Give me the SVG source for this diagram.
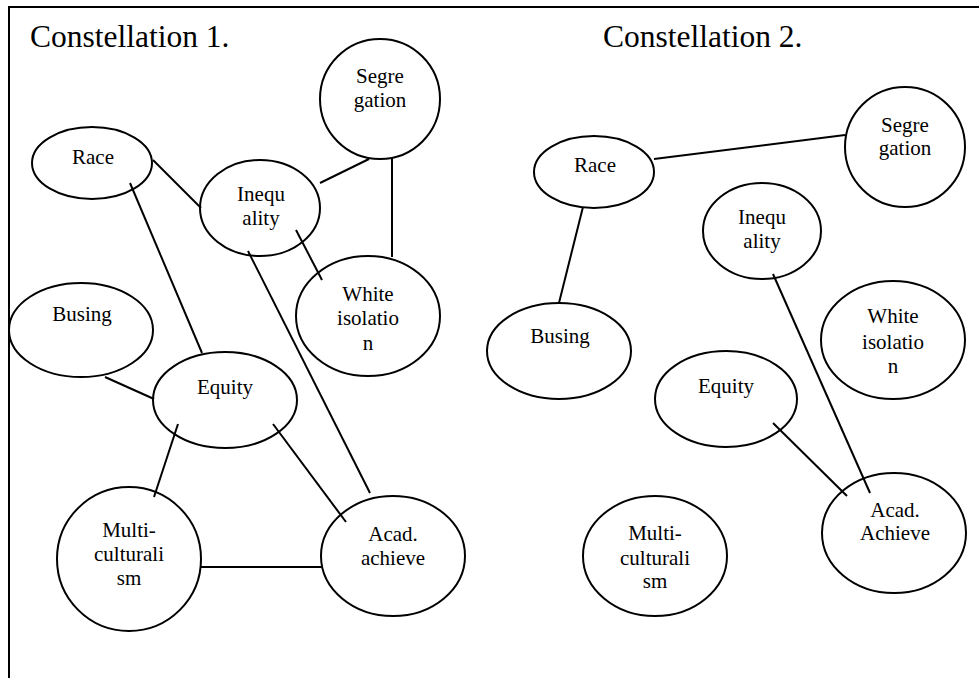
<svg xmlns="http://www.w3.org/2000/svg" width="979" height="678" viewBox="0 0 979 678">
<style>
  .n { fill: none; stroke: #000; stroke-width: 2; }
  .e { stroke: #000; stroke-width: 2; fill: none; }
  .l { font-family: "Liberation Serif", "Times New Roman", serif; font-size: 21px; text-anchor: middle; fill: #000; }
  .t { font-family: "Liberation Serif", "Times New Roman", serif; font-size: 31.5px; fill: #000; }
</style>
<rect width="979" height="678" fill="#fff"/>
<g id="frame">
  <line x1="8" y1="7" x2="979" y2="7" class="e"/>
  <line x1="9" y1="7" x2="9" y2="678" class="e"/>
</g>
<text class="t" x="30" y="47">Constellation 1.</text>
<text class="t" x="603" y="47">Constellation 2.</text>
<g id="connectors">
  <line x1="153" y1="160" x2="201" y2="208" class="e"/>
  <line x1="369" y1="159" x2="320" y2="183" class="e"/>
  <line x1="392" y1="158" x2="392" y2="257" class="e"/>
  <line x1="296" y1="230" x2="322" y2="280" class="e"/>
  <line x1="130" y1="183" x2="202" y2="353" class="e"/>
  <line x1="248" y1="251" x2="370" y2="493" class="e"/>
  <line x1="105" y1="377" x2="154" y2="399" class="e"/>
  <line x1="178" y1="424" x2="154" y2="497" class="e"/>
  <line x1="273" y1="424" x2="346" y2="522" class="e"/>
  <line x1="201" y1="567" x2="322" y2="567" class="e"/>
  <line x1="654" y1="159" x2="845" y2="135" class="e"/>
  <line x1="583" y1="207" x2="559" y2="303" class="e"/>
  <line x1="773" y1="274" x2="870" y2="493" class="e"/>
  <line x1="773" y1="423" x2="847" y2="496" class="e"/>
</g>
<g id="c1-segregation"><ellipse class="n" cx="380" cy="99" rx="60" ry="60"/><text class="l" x="380" y="83">Segre</text><text class="l" x="380" y="107">gation</text></g>
<g id="c1-race"><ellipse class="n" cx="92" cy="163" rx="60" ry="36"/><text class="l" x="93" y="164">Race</text></g>
<g id="c1-inequality"><ellipse class="n" cx="260" cy="208" rx="60" ry="48"/><text class="l" x="261" y="201">Inequ</text><text class="l" x="261" y="225">ality</text></g>
<g id="c1-white-isolation"><ellipse class="n" cx="368" cy="316" rx="72" ry="60"/><text class="l" x="368" y="301">White</text><text class="l" x="368" y="325">isolatio</text><text class="l" x="368" y="350">n</text></g>
<g id="c1-busing"><ellipse class="n" cx="81" cy="330" rx="72" ry="47"/><text class="l" x="82" y="321">Busing</text></g>
<g id="c1-equity"><ellipse class="n" cx="225" cy="400" rx="72" ry="48"/><text class="l" x="225" y="394">Equity</text></g>
<g id="c1-multiculturalism"><ellipse class="n" cx="129" cy="559" rx="72" ry="72"/><text class="l" x="129" y="537">Multi-</text><text class="l" x="129" y="561">culturali</text><text class="l" x="129" y="585">sm</text></g>
<g id="c1-acad-achieve"><ellipse class="n" cx="393" cy="556" rx="72" ry="60"/><text class="l" x="393" y="541">Acad.</text><text class="l" x="393" y="565">achieve</text></g>
<g id="c2-race"><ellipse class="n" cx="594" cy="172" rx="60" ry="36"/><text class="l" x="595" y="172">Race</text></g>
<g id="c2-segregation"><ellipse class="n" cx="905" cy="147" rx="60" ry="60"/><text class="l" x="905" y="132">Segre</text><text class="l" x="905" y="155">gation</text></g>
<g id="c2-inequality"><ellipse class="n" cx="762" cy="231" rx="59" ry="48"/><text class="l" x="762" y="224">Inequ</text><text class="l" x="762" y="248">ality</text></g>
<g id="c2-busing"><ellipse class="n" cx="559" cy="351" rx="72" ry="48"/><text class="l" x="560" y="343">Busing</text></g>
<g id="c2-white-isolation"><ellipse class="n" cx="893" cy="340" rx="72" ry="59"/><text class="l" x="893" y="323">White</text><text class="l" x="893" y="349">isolatio</text><text class="l" x="893" y="373">n</text></g>
<g id="c2-equity"><ellipse class="n" cx="726" cy="399" rx="71" ry="48"/><text class="l" x="726" y="393">Equity</text></g>
<g id="c2-multiculturalism"><ellipse class="n" cx="655" cy="556" rx="72" ry="60"/><text class="l" x="655" y="540">Multi-</text><text class="l" x="655" y="565">culturali</text><text class="l" x="655" y="588">sm</text></g>
<g id="c2-acad-achieve"><ellipse class="n" cx="894" cy="533" rx="72" ry="60"/><text class="l" x="895" y="517">Acad.</text><text class="l" x="895" y="540">Achieve</text></g>
</svg>
